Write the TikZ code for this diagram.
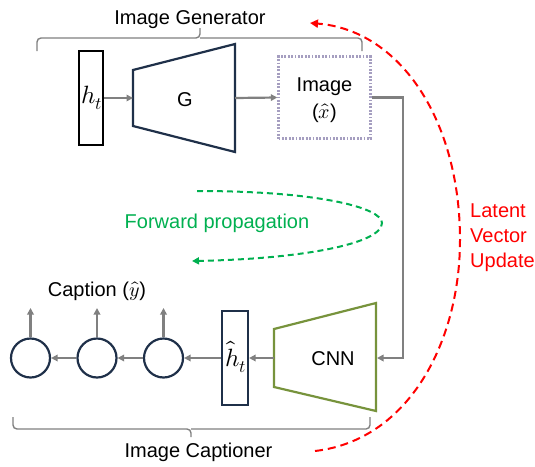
\documentclass[tikz,border=0pt]{standalone}
\usepackage{fontspec}
\usepackage{unicode-math}
\setmainfont{Liberation Sans}
\setmathfont{Latin Modern Math}
\usetikzlibrary{arrows.meta}
\definecolor{linegray}{HTML}{808080}
\definecolor{navy}{HTML}{1F3049}
\definecolor{olive}{HTML}{77933C}
\definecolor{lavender}{HTML}{A59EC0}
\definecolor{fwdgreen}{HTML}{00B050}
\definecolor{updred}{HTML}{FF0000}
\tikzset{
  txt/.style={font=\fontsize{20}{24}\selectfont, inner sep=0pt},
  mathlbl/.style={font=\fontsize{25}{28}\selectfont, inner sep=0pt},
  grayarrow/.style={draw=linegray, line width=2.2pt, -{Triangle[length=6.5pt,width=6.5pt]}},
  graybrace/.style={draw=linegray, line width=1.4pt, rounded corners=4pt},
  vecbox/.style={draw, line width=2.2pt, minimum width=24pt, minimum height=94pt, inner sep=0pt},
  rnncell/.style={circle, draw=navy, line width=2.2pt, minimum size=39pt, inner sep=0pt},
  trap/.style={line width=2.2pt, line join=miter},
}
\begin{document}
\begin{tikzpicture}[x=1pt, y=-1pt]
\useasboundingbox (0,0) rectangle (535,466);

% ---------- Image Generator ----------
\node[txt, anchor=base] (gentitle) at (190,24) {Image Generator};
\draw[graybrace] (37,51) -- (37,38) -- (200,38) -- (200,28);
\draw[graybrace] (362,51) -- (362,38) -- (200,38);

\node[vecbox, draw=black] (ht) at (91,98) {};
\node[mathlbl] (htlabel) at (92,98) {$h_t$};

\draw[trap, draw=navy] (133,70) -- (235,44) -- (235,152) -- (133,126) -- cycle;
\node[txt] (G) at (185,99.5) {G};
\coordinate (Gl) at (133,98);
\coordinate (Gr) at (235,98);

\node[draw=lavender, line width=2.4pt, dash pattern=on 1.8pt off 1.6pt,
      minimum width=92pt, minimum height=82pt, inner sep=0pt] (img) at (324.5,97.5) {};
\node[txt, align=center] (imglabel) at (324.5,100) {Image\\[3pt]($\hat{x}$)};

\draw[grayarrow] (ht.east) -- (Gl);
\draw[grayarrow] (Gr) -- (img.west);

% ---------- Image Captioner ----------
\draw[trap, draw=olive] (274,329) -- (376,303) -- (376,411) -- (274,387) -- cycle;
\node[txt] (CNN) at (333,358.5) {CNN};
\coordinate (Cl) at (274,358);
\coordinate (Cr) at (377,358);
\coordinate (bend) at (403,358);

\draw[grayarrow] (img.east) -| (bend) -- (Cr);

\node[vecbox, draw=navy, minimum width=26pt] (hh) at (235,358) {};
\node[mathlbl] (hhlabel) at (236,357) {$\hat{h}_t$};

\draw[grayarrow] (Cl) -- (hh.east);

\node[rnncell] (c3) at (163.5,358) {};
\node[rnncell] (c2) at (97,358) {};
\node[rnncell] (c1) at (30.5,358) {};
\draw[grayarrow] (hh.west) -- (c3.east);
\draw[grayarrow] (c3.west) -- (c2.east);
\draw[grayarrow] (c2.west) -- (c1.east);

\coordinate (o1) at (30.5,308);
\coordinate (o2) at (97,308);
\coordinate (o3) at (163.5,308);
\draw[grayarrow] (c1.north) -- (o1);
\draw[grayarrow] (c2.north) -- (o2);
\draw[grayarrow] (c3.north) -- (o3);

\node[txt, anchor=base] (caption) at (97,296) {Caption ($\hat{y}$)};

\draw[graybrace] (13,417) -- (13,429) -- (191,429) -- (191,437);
\draw[graybrace] (370,417) -- (370,429) -- (191,429);
\node[txt, anchor=base] (captitle) at (198.5,457) {Image Captioner};

% ---------- Forward propagation ----------
\coordinate (fwdstart) at (197,191);
\coordinate (fwdend) at (192,261);
\draw[fwdgreen, line width=2pt, dash pattern=on 6pt off 4pt, -{Triangle[length=7pt,width=7pt]}]
  (fwdstart) .. controls (320,191) and (382,208) .. (382,223)
  .. controls (382,244) and (300,259) .. (fwdend);
\node[txt, text=fwdgreen] (fwd) at (217,223) {Forward propagation};

% ---------- Latent vector update ----------
\coordinate (updstart) at (315,451);
\coordinate (updend) at (310,23);
\draw[updred, line width=2pt, dash pattern=on 8pt off 5pt, -{Triangle[length=8pt,width=8pt]}]
  (updstart) .. controls (410,440) and (460,340) .. (460,240)
  .. controls (460,120) and (400,30) .. (updend);
\node[txt, text=updred, align=left, anchor=west, font=\fontsize{20}{25}\selectfont] (upd) at (470,238) {Latent\\Vector\\Update};
\end{tikzpicture}
\end{document}
